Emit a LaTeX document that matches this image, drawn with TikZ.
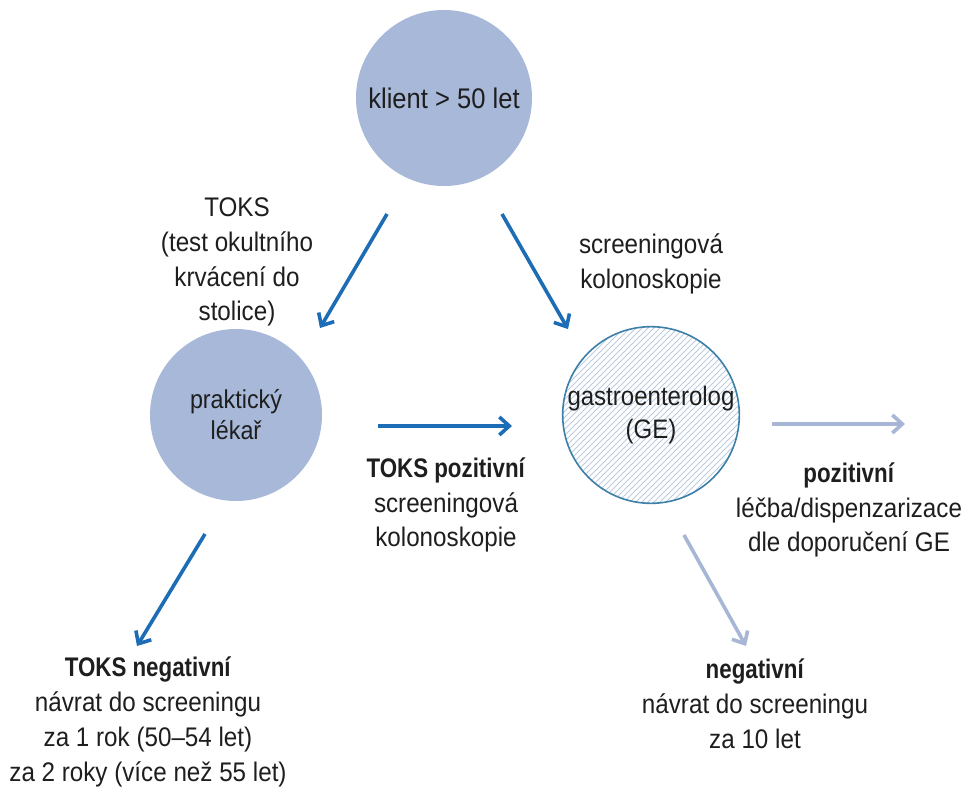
\documentclass[tikz,border=0pt]{standalone}
\usepackage{fontspec}
\setmainfont{Liberation Sans}[FakeStretch=0.9, BoldFeatures={FakeStretch=0.83}]
\usetikzlibrary{arrows.meta}
\definecolor{circfill}{HTML}{A8B8D8}
\definecolor{darkarrow}{HTML}{1C6DB5}
\definecolor{lightarrow}{HTML}{A6B6D4}
\definecolor{geborder}{HTML}{3C7FA8}
\definecolor{hatch}{HTML}{BCCDDF}
\definecolor{txt}{HTML}{1E1E1E}
\tikzset{
  circ/.style={circle, fill=circfill, minimum size=176bp, inner sep=0pt, align=center, text=txt, font=\fontsize{26.5}{32}\selectfont},
  lbl/.style={align=center, text=txt, font=\fontsize{27}{35}\selectfont, inner sep=0pt},
  darr/.style={draw=darkarrow, line width=3.6bp, -{Straight Barb[length=10bp,width=18bp,line width=3.6bp]}},
  larr/.style={draw=lightarrow, line width=3.6bp, -{Straight Barb[length=10bp,width=18bp,line width=3.6bp]}},
}
\begin{document}
\begin{tikzpicture}[x=1bp,y=-1bp]
\useasboundingbox (0,0) rectangle (963,792);
% circles
\node[circ, font=\fontsize{28.5}{32}\selectfont] (client) at (444,98) {klient > 50 let};
\node[circ, minimum size=172bp, font=\fontsize{26}{31}\selectfont] (gp) at (236,415) {praktický\\lékař};
% GE circle with hatching
\begin{scope}
  \clip (651,415) circle (88bp);
  \foreach \k in {-204,-198,...,204} {
    \draw[hatch, line width=0.9bp] (651+\k-100,515) -- (651+\k+100,315);
  }
\end{scope}
\node[circle, draw=geborder, line width=1.6bp, minimum size=176bp, inner sep=0pt, align=center, text=txt, font=\fontsize{26.8}{33}\selectfont] (ge) at (651,415) {gastroenterolog\\(GE)};
% labels
\node[lbl] (toks) at (237,262) {TOKS\\(test okultního\\krvácení do\\stolice)};
\node[lbl] (scr) at (651,264) {screeningová\\kolonoskopie};
\node[lbl] (tokspoz) at (446,505) {\textbf{TOKS pozitivní}\\screeningová\\kolonoskopie};
\node[lbl] (poz) at (849,510) {\textbf{pozitivní}\\léčba/dispenzarizace\\dle doporučení GE};
\node[lbl] (toksneg) at (148,722) {\textbf{TOKS negativní}\\návrat do screeningu\\za 1 rok (50–54 let)\\za 2 roky (více než 55 let)};
\node[lbl] (neg) at (755,704) {\textbf{negativní}\\návrat do screeningu\\za 10 let};
% arrow endpoints
\coordinate (a1s) at (387,214);
\coordinate (a1e) at (320,328);
\coordinate (a2s) at (502,214);
\coordinate (a2e) at (568,329);
\coordinate (a3s) at (378,426);
\coordinate (a3e) at (512,426);
\coordinate (a4s) at (205,534);
\coordinate (a4e) at (137,646);
\coordinate (a5s) at (772,424);
\coordinate (a5e) at (905,424);
\coordinate (a6s) at (684,535);
\coordinate (a6e) at (746,646);
\draw[darr] (a1s) -- (a1e);
\draw[darr] (a2s) -- (a2e);
\draw[darr] (a3s) -- (a3e);
\draw[darr] (a4s) -- (a4e);
\draw[larr] (a5s) -- (a5e);
\draw[larr] (a6s) -- (a6e);
\end{tikzpicture}
\end{document}
